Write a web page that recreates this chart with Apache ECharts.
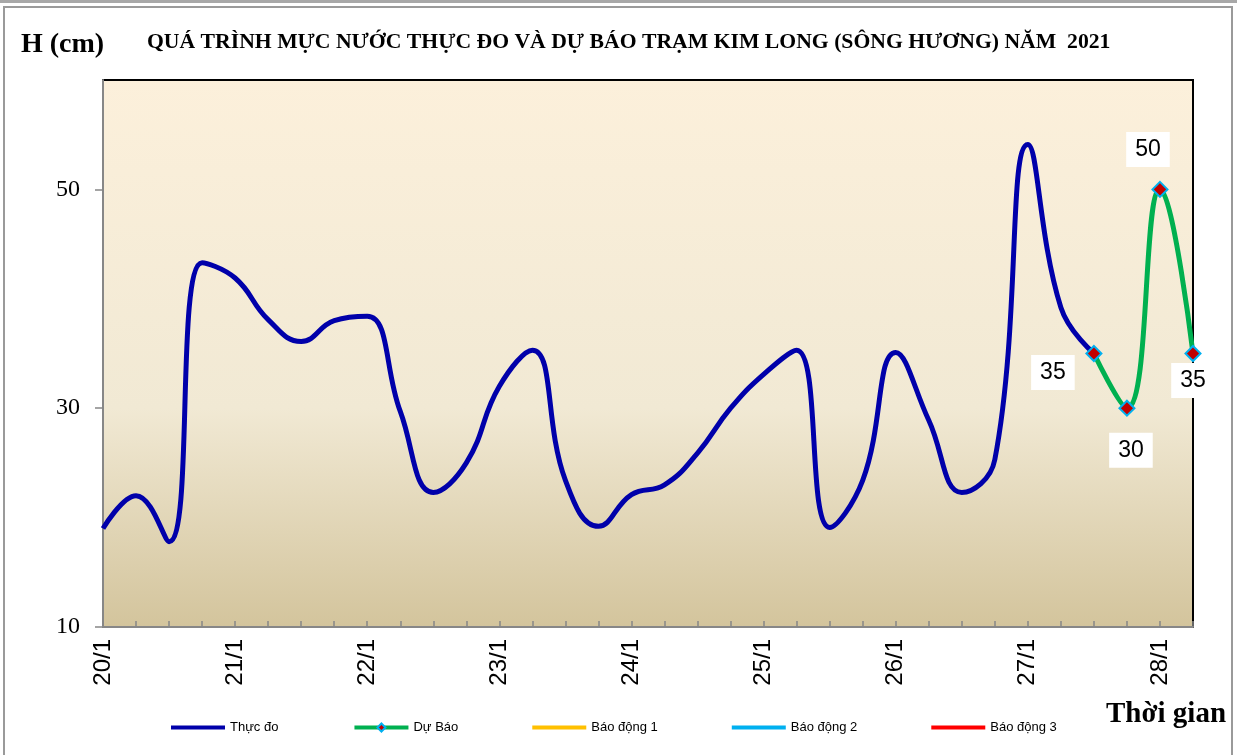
<!DOCTYPE html>
<html>
<head>
<meta charset="utf-8">
<title>Kim Long</title>
<script src="https://cdn.jsdelivr.net/npm/echarts@6/dist/echarts.min.js"></script>
<style>
  html, body { margin: 0; padding: 0; background: #fff; }
  #chart { width: 1237px; height: 755px; }
</style>
</head>
<body>
<div id="chart"></div>
<script>
  // moc thoi gian, 6 gio mot diem
  var categories = [
    '20/1', '20/1 06h', '20/1 12h', '20/1 18h',
    '21/1', '21/1 06h', '21/1 12h', '21/1 18h',
    '22/1', '22/1 06h', '22/1 12h', '22/1 18h',
    '23/1', '23/1 06h', '23/1 12h', '23/1 18h',
    '24/1', '24/1 06h', '24/1 12h', '24/1 18h',
    '25/1', '25/1 06h', '25/1 12h', '25/1 18h',
    '26/1', '26/1 06h', '26/1 12h', '26/1 18h',
    '27/1', '27/1 06h', '27/1 12h', '27/1 18h',
    '28/1', '28/1 06h'
  ]
  // muc nuoc thuc do (cm)
  var thucDo = [19, 22, 17.8, 43.3, 41.9, 38.1, 36.1, 38, 38.4, 29.7, 22.3, 25, 32, 35.3, 23.4, 19.2,
    22.1, 23, 25.9, 30, 33.1, 35.3, 19.1, 23.4, 35.1, 28.9, 22.3, 25.3, 54.1, 39.2, 35]
  // du bao, bat dau tu 27/1 12h
  var duBaoStart = 30
  var duBao = [35, 30, 50, 35]
  // bao dong: nam ngoai khung hinh nen khong co diem nao
  var baoDong1 = []
  var baoDong2 = []
  var baoDong3 = []
  var yTicks = [10, 30, 50]

  // vi tri nhan so cua diem du bao
  var labelOffsets = [[-41, 19], [4, 42], [-12, -40], [0, 27]]

  var serif = '"Liberation Serif", "Times New Roman", serif'
  var sans = '"Liberation Sans", Arial, sans-serif'
  var axisGrey = '#878787'
  // icon chi la mot vach, khong co diem tron
  var lineIcon = 'path://M0,0H54V4H0Z'

  var duBaoData = categories.map(function (c, i) {
    var k = i - duBaoStart
    if (k < 0) return '-'
    return { value: duBao[k], label: { offset: labelOffsets[k] } }
  })

  var chart = echarts.init(document.getElementById('chart'))
  chart.setOption({
    backgroundColor: '#fff',
    animation: false,
    title: [{
      text: 'QUÁ TRÌNH MỰC NƯỚC THỰC ĐO VÀ DỰ BÁO TRẠM KIM LONG (SÔNG HƯƠNG) NĂM  2021',
      left: 142,
      top: 26,
      textStyle: { fontFamily: serif, fontWeight: 'bold', fontSize: 21.7, color: '#000' }
    }, {
      text: 'H (cm)',
      left: 16,
      top: 26,
      textStyle: { fontFamily: serif, fontWeight: 'bold', fontSize: 28, color: '#000' }
    }, {
      text: 'Thời gian',
      left: 1101,
      top: 695,
      textStyle: { fontFamily: serif, fontWeight: 'bold', fontSize: 29, color: '#000' }
    }],
    graphic: [{
      type: 'line',
      shape: { x1: 0, y1: 1.5, x2: 1237, y2: 1.5 },
      style: { stroke: '#a8a8a8', lineWidth: 3 }
    }, {
      type: 'rect',
      shape: { x: 4, y: 7, width: 1228, height: 760 },
      style: { fill: null, stroke: '#9a9a9a', lineWidth: 2 }
    }],
    legend: {
      left: 166,
      top: 716,
      itemWidth: 54,
      itemHeight: 10,
      itemGap: 74,
      lineStyle: { width: 4 },
      textStyle: { fontFamily: sans, fontSize: 13, color: '#000' },
      data: [
        { name: 'Thực đo', icon: lineIcon },
        'Dự Báo',
        { name: 'Báo động 1', icon: lineIcon },
        { name: 'Báo động 2', icon: lineIcon },
        { name: 'Báo động 3', icon: lineIcon }
      ]
    },
    grid: {
      left: 103,
      right: 44,
      top: 80,
      bottom: 128,
      show: true,
      borderColor: '#000',
      borderWidth: 2,
      backgroundColor: {
        type: 'linear', x: 0, y: 0, x2: 0, y2: 1,
        colorStops: [
          { offset: 0, color: '#fcf0db' },
          { offset: 0.6, color: '#f1e9d4' },
          { offset: 1, color: '#d3c49c' }
        ]
      }
    },
    xAxis: {
      type: 'category',
      boundaryGap: false,
      data: categories,
      axisLine: { lineStyle: { color: axisGrey, width: 2 } },
      axisTick: { show: true, inside: true, length: 6, interval: 0, lineStyle: { color: axisGrey, width: 1.5 } },
      axisLabel: { interval: 3, rotate: 90, margin: 12, fontFamily: sans, fontSize: 24, color: '#000' },
      splitLine: { show: false }
    },
    yAxis: {
      type: 'value',
      min: 10,
      max: 60,
      axisLine: { show: true, lineStyle: { color: axisGrey, width: 2 } },
      axisTick: { show: true, length: 8, customValues: yTicks, lineStyle: { color: axisGrey, width: 1.5 } },
      axisLabel: { customValues: yTicks, margin: 23, fontFamily: serif, fontSize: 24, color: '#000' },
      splitLine: { show: false }
    },
    series: [{
      name: 'Thực đo',
      type: 'line',
      data: thucDo,
      smooth: 0.45,
      symbol: 'none',
      color: '#0000aa',
      lineStyle: { color: '#0000aa', width: 5 },
      z: 2
    }, {
      name: 'Dự Báo',
      type: 'line',
      data: duBaoData,
      smooth: 0.45,
      symbol: 'diamond',
      symbolSize: 15,
      color: '#00b050',
      lineStyle: { color: '#00b050', width: 5 },
      itemStyle: { color: '#c00000', borderColor: '#00b0f0', borderWidth: 2 },
      label: {
        show: true,
        position: 'inside',
        formatter: '{c}',
        fontFamily: sans,
        fontSize: 23,
        color: '#000',
        backgroundColor: '#fff',
        padding: [7, 9, 5, 9]
      },
      z: 3
    }, {
      name: 'Báo động 1',
      type: 'line',
      data: baoDong1,
      symbol: 'none',
      color: '#ffc000',
      lineStyle: { color: '#ffc000', width: 4 }
    }, {
      name: 'Báo động 2',
      type: 'line',
      data: baoDong2,
      symbol: 'none',
      color: '#00b0f0',
      lineStyle: { color: '#00b0f0', width: 4 }
    }, {
      name: 'Báo động 3',
      type: 'line',
      data: baoDong3,
      symbol: 'none',
      color: '#ff0000',
      lineStyle: { color: '#ff0000', width: 4 }
    }]
  })
</script>
</body>
</html>
